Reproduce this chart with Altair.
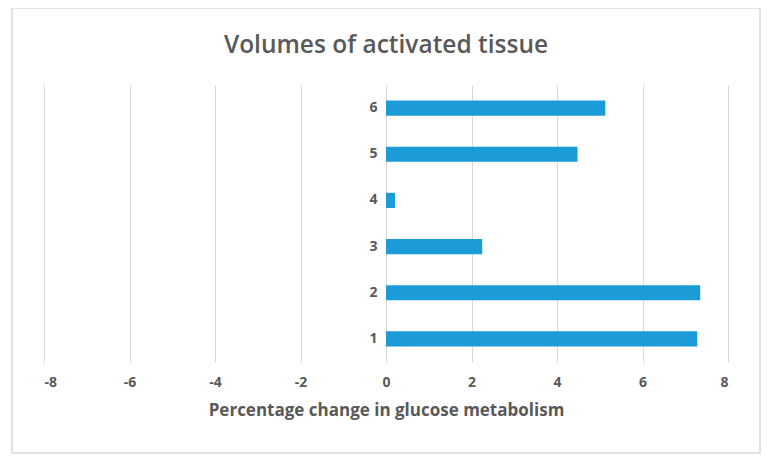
import altair as alt
import pandas as pd

categories = ["1", "2", "3", "4", "5", "6"]
values = [7.28, 7.35, 2.25, 0.21, 4.48, 5.13]
x_ticks = [-8, -6, -4, -2, 0, 2, 4, 6, 8]
title_text = "Volumes of activated tissue"

df = pd.DataFrame({"cat": categories, "val": values})

TEXT = "#595959"
FONT = "Open Sans"

bars = alt.Chart(df).mark_bar(color="#1B9BD7").encode(
    x=alt.X(
        "val:Q",
        scale=alt.Scale(domain=[-8, 8], nice=False),
        axis=alt.Axis(
            values=x_ticks,
            labelExpr="toString(datum.value)",
            title="Percentage change in glucose metabolism",
            domain=False,
            ticks=False,
            grid=True,
            gridColor="#d9d9d9",
            gridWidth=1,
            labelPadding=13,
            labelFont=FONT,
            labelFontSize=14,
            labelFontWeight="bold",
            labelColor=TEXT,
            titleFont=FONT,
            titleFontSize=17,
            titleFontWeight="bold",
            titleColor=TEXT,
            titlePadding=13,
        ),
    ),
    y=alt.Y(
        "cat:N",
        sort="descending",
        scale=alt.Scale(paddingInner=0.67, paddingOuter=0.335),
        axis=alt.Axis(
            title=None,
            domain=False,
            ticks=False,
            grid=False,
            offset=-342,
            labelPadding=9,
            labelFont=FONT,
            labelFontSize=14,
            labelFontWeight="bold",
            labelColor=TEXT,
        ),
    ),
)

border = alt.Chart(pd.DataFrame({"a": [0]})).mark_rect(
    fill=None, stroke="#d9d9d9", strokeWidth=1.5
).encode(
    x=alt.value(-32), x2=alt.value(716), y=alt.value(-77), y2=alt.value(368)
)

title = alt.Chart(pd.DataFrame({"t": [title_text]})).mark_text(
    font=FONT, fontSize=24.5, fontWeight=600, color=TEXT,
    align="center", baseline="alphabetic",
).encode(
    x=alt.value(342), y=alt.value(-32), text="t:N"
)

chart = alt.layer(border, title, bars).properties(
    width=684,
    height=277,
    autosize=alt.AutoSizeParams(type="none"),
    padding={"left": 36, "top": 77, "right": 34, "bottom": 94},
).configure(background="white").configure_view(strokeWidth=0)

chart.save("out.html", embed_options={"renderer": "svg", "actions": False})
